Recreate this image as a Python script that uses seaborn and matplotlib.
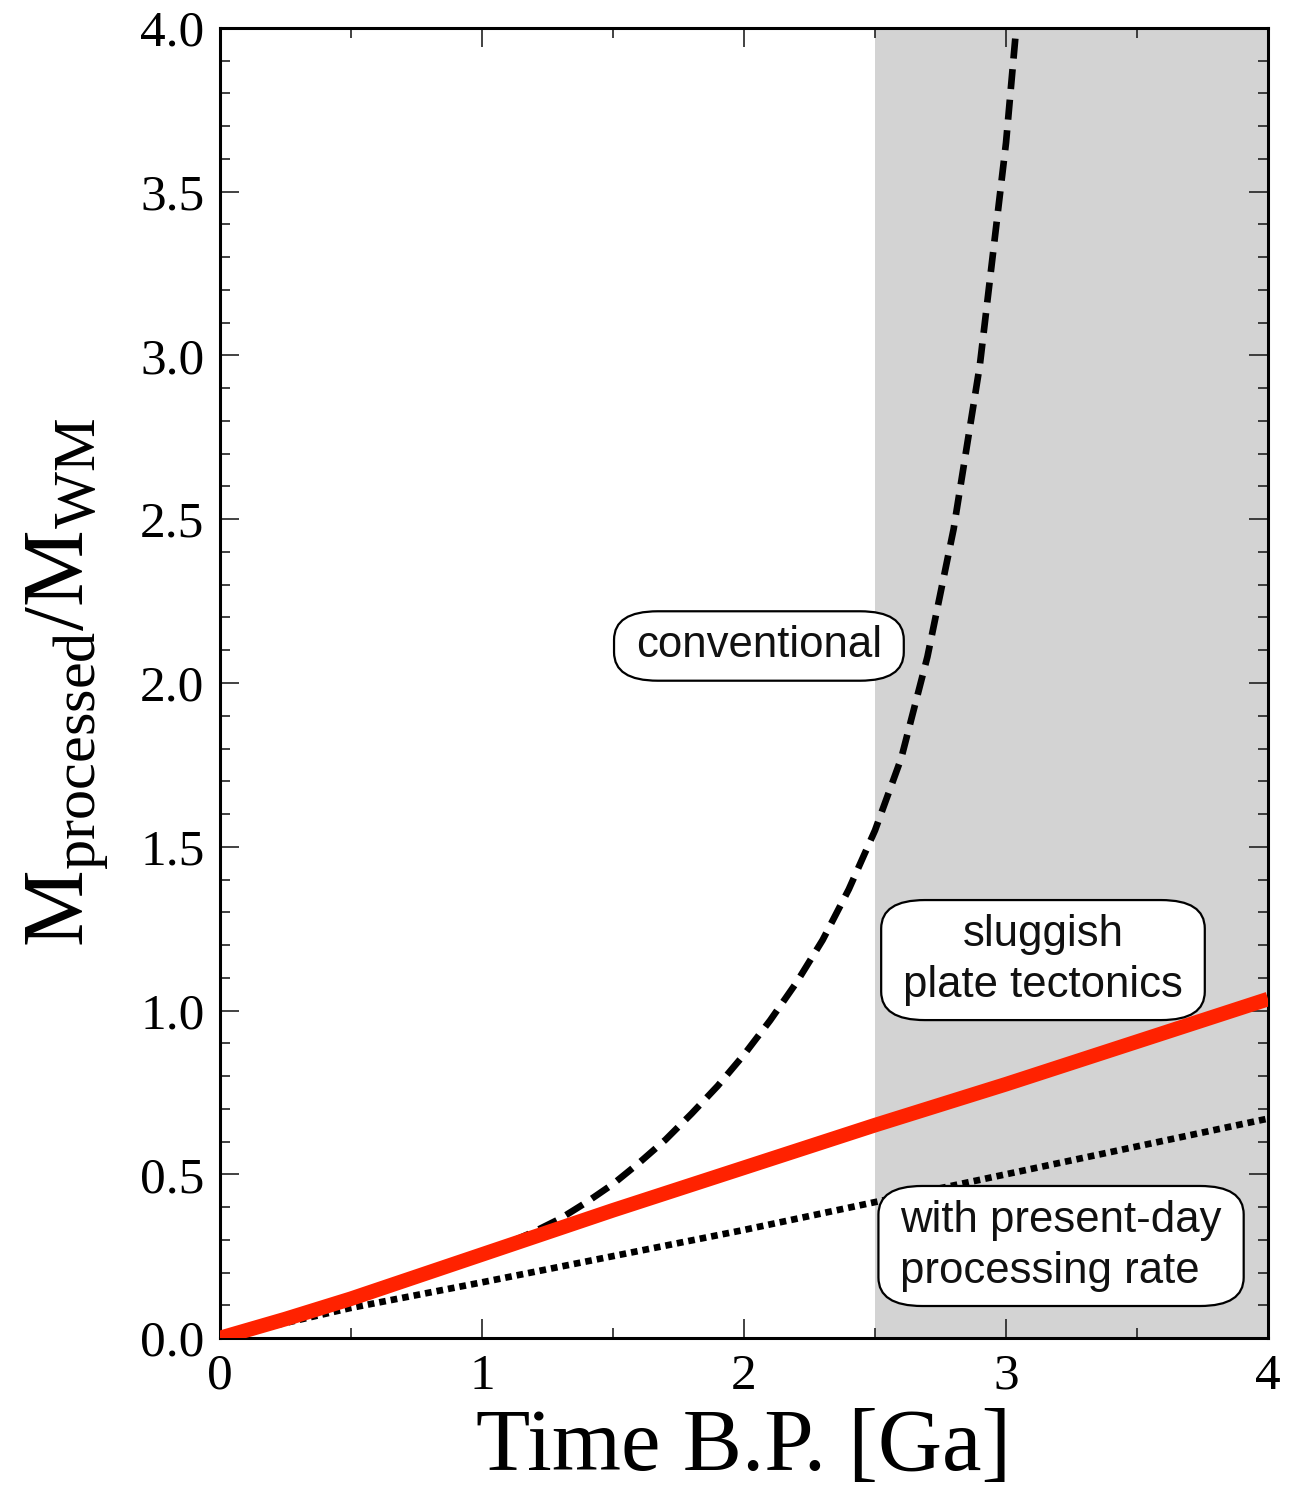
import numpy as np
import pandas as pd
import matplotlib
matplotlib.use("Agg")
import matplotlib.pyplot as plt
import seaborn as sns

# Cumulative processed mass (normalised by whole-mantle mass) vs. time before present
conv_time = [0.0, 0.5, 1.0, 1.1, 1.2, 1.3, 1.4, 1.5, 1.6, 1.7, 1.8, 1.9, 2.0,
             2.1, 2.2, 2.3, 2.4, 2.5, 2.6, 2.7, 2.8, 2.9, 3.0, 3.05]
conv_mass = [0.0, 0.12, 0.255, 0.29, 0.325, 0.365, 0.415, 0.47, 0.535, 0.605,
             0.685, 0.77, 0.865, 0.97, 1.085, 1.215, 1.37, 1.55, 1.77, 2.08,
             2.47, 2.97, 3.65, 4.1]

slug_time = [0.0, 0.25, 0.5, 1.0, 1.5, 2.0, 2.5, 3.0, 3.5, 4.0]
slug_mass = [0.0, 0.058, 0.12, 0.255, 0.39, 0.52, 0.65, 0.775, 0.905, 1.035]

pres_time = [0.0, 0.5, 1.0, 1.5, 2.0, 2.5, 3.0, 3.5, 4.0]
pres_mass = [0.0, 0.092, 0.17, 0.25, 0.33, 0.415, 0.50, 0.585, 0.67]

shade_span = (2.5, 4.0)

x_ticks = [0, 1, 2, 3, 4]
y_ticks = [0.0, 0.5, 1.0, 1.5, 2.0, 2.5, 3.0, 3.5, 4.0]

sns.set_theme(style="ticks")
plt.rcParams["font.family"] = ["Liberation Serif", "DejaVu Serif"]
plt.rcParams["mathtext.fontset"] = "custom"
plt.rcParams["mathtext.rm"] = "Liberation Serif"
plt.rcParams["mathtext.it"] = "Liberation Serif:italic"
for key in ("text.color", "axes.labelcolor", "xtick.color", "ytick.color"):
    plt.rcParams[key] = "black"

fig = plt.figure(figsize=(13.01, 14.96), dpi=100)
ax = fig.add_axes([0.169, 0.1056, 0.8057, 0.8757])

ax.axvspan(*shade_span, color="#d3d3d3", lw=0, zorder=0)

conv = pd.DataFrame({"t": conv_time, "m": conv_mass})
slug = pd.DataFrame({"t": slug_time, "m": slug_mass})
pres = pd.DataFrame({"t": pres_time, "m": pres_mass})

sns.lineplot(data=pres, x="t", y="m", ax=ax, color="black", lw=4.8,
             linestyle=(0, (1.0, 0.75)), zorder=2)
sns.lineplot(data=conv, x="t", y="m", ax=ax, color="black", lw=4.8,
             linestyle=(0, (3.0, 1.6)), zorder=3)
sns.lineplot(data=slug, x="t", y="m", ax=ax, color="#ff2200", lw=10.5,
             solid_capstyle="butt", zorder=4)

ax.set_xlim(0, 4)
ax.set_ylim(0, 4)
ax.set_xticks(x_ticks)
ax.set_xticklabels([str(v) for v in x_ticks])
ax.set_yticks(y_ticks)
ax.set_yticklabels([f"{v:.1f}" for v in y_ticks])
ax.set_xticks(np.arange(0, 4.01, 0.5), minor=True)
ax.set_yticks(np.arange(0, 4.001, 0.1), minor=True)

ax.tick_params(which="both", direction="in", top=True, right=True, width=1.2,
               color="#222222")
ax.tick_params(which="major", length=14, labelsize=37, pad=11)
ax.tick_params(which="minor", length=7)
for s in ax.spines.values():
    s.set_linewidth(2.2)
    s.set_color("black")

ax.set_xlabel("Time B.P. [Ga]", fontsize=64, labelpad=6)
ax.set_ylabel(r"$\mathrm{M_{processed}/M_{WM}}$", fontsize=62, labelpad=22)

box = dict(boxstyle="round,pad=0.5,rounding_size=1.0", fc="white",
           ec="black", lw=1.6, mutation_aspect=0.65)
sans = ["Liberation Sans", "DejaVu Sans"]
ax.text(2.057, 2.113, "conventional", fontsize=31.5, family=sans,
        ha="center", va="center", bbox=box, color="#111111", zorder=6)
ax.text(3.141, 1.154, "sluggish\nplate tectonics", fontsize=31.5, family=sans,
        ha="center", va="center", multialignment="center", bbox=box,
        color="#111111", linespacing=1.3, zorder=6)
ax.text(3.21, 0.281, "with present-day\nprocessing rate", fontsize=31.5,
        family=sans, ha="center", va="center", multialignment="left",
        bbox=box, color="#111111", linespacing=1.3, zorder=6)

fig.savefig("out.png", dpi=100)
